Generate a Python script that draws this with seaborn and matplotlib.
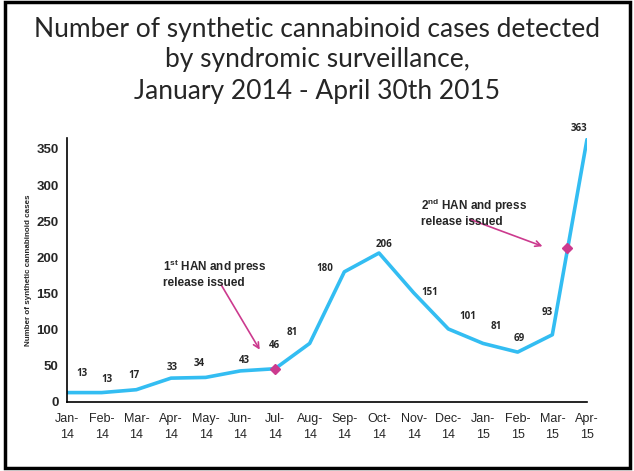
import matplotlib
matplotlib.use("Agg")
import matplotlib.pyplot as plt
import seaborn as sns
import pandas as pd
from matplotlib.patches import Rectangle

# dados
meses = ["Jan-\n14", "Feb-\n14", "Mar-\n14", "Apr-\n14", "May-\n14", "Jun-\n14",
         "Jul-\n14", "Aug-\n14", "Sep-\n14", "Oct-\n14", "Nov-\n14", "Dec-\n14",
         "Jan-\n15", "Feb-\n15", "Mar-\n15", "Apr-\n15"]
casos = [13, 13, 17, 33, 34, 43, 46, 81, 180, 206, 151, 101, 81, 69, 93, 363]

# eventos (HAN) marcados na linha
han_x = [6, 14.43]
han_y = [46, 213]

# deslocamento dos rotulos (pixels)
desloc = [(15, 19), (5, 13), (-2, 14), (1, 11), (-6, 14), (4, 10), (-1, 23), (-17, 11),
          (-20, 3), (5, 9), (16, 0), (19, 12), (13, 17), (2, 14), (-5, 22), (-8, 11)]

df = pd.DataFrame({"idx": range(len(casos)), "casos": casos})

sns.set_style("white")
plt.rcParams["font.family"] = ["Liberation Sans", "DejaVu Sans"]
plt.rcParams["mathtext.fontset"] = "custom"
plt.rcParams["mathtext.bf"] = "Liberation Sans:bold"
plt.rcParams["mathtext.rm"] = "Liberation Sans"

fig = plt.figure(figsize=(6.34, 4.71), dpi=100)
ax = fig.add_axes([67 / 634, 1 - 402 / 471, 520 / 634, 264 / 471])

azul = "#33BDF2"
rosa = "#CC3A8E"

sns.lineplot(data=df, x="idx", y="casos", ax=ax, color=azul, linewidth=2.6)
ax.plot(han_x, han_y, linestyle="none", marker="D", markersize=5.5, color=rosa, zorder=5)

for i, v in enumerate(casos):
    dx, dy = desloc[i]
    ax.annotate(str(v), (i, v), xytext=(dx, dy), textcoords="offset pixels",
                ha="center", va="center", fontsize=7, fontweight="bold",
                family=["Open Sans", "DejaVu Sans"])

# setas e textos
ax.annotate("", xy=(5.6, 69), xytext=(4.41, 165),
            arrowprops=dict(arrowstyle="->", color=rosa, lw=1.2))
ax.annotate("", xy=(13.79, 214), xytext=(11.54, 254),
            arrowprops=dict(arrowstyle="->", color=rosa, lw=1.2))
ax.text(2.77, 200, r"1$^{\mathbf{st}}$ HAN and press" + "\nrelease issued",
        fontsize=8.5, fontweight="bold", ha="left", va="top", linespacing=1.15)
ax.text(10.21, 284, r"2$^{\mathbf{nd}}$ HAN and press" + "\nrelease issued",
        fontsize=8.5, fontweight="bold", ha="left", va="top", linespacing=1.15)

ax.set_xlim(0, 15)
ax.set_ylim(0, 365)
ax.set_xticks(range(len(meses)))
ax.set_xticklabels(meses, fontsize=9, linespacing=1.45)
ax.set_yticks(range(0, 351, 50))
ax.set_yticklabels([str(t) for t in range(0, 351, 50)], fontsize=9.5, fontweight="bold")
ax.tick_params(axis="both", direction="out", length=4, width=0.6, color="#999999", pad=2)
ax.tick_params(axis="x", pad=4)
ax.set_xlabel("")
ax.set_ylabel("Number of synthetic cannabinoid cases", fontsize=5.8, fontweight="bold", labelpad=3)

sns.despine(ax=ax)
for s in ["left", "bottom"]:
    ax.spines[s].set_color("black")
    ax.spines[s].set_linewidth(1.2)

# titulo
fig.text(0.5, 1 - 60 / 471,
         "Number of synthetic cannabinoid cases detected\nby syndromic surveillance,\nJanuary 2014 - April 30th 2015",
         ha="center", va="center", fontsize=19, family=["Lato", "DejaVu Sans"], linespacing=1.3)

# moldura
fig.patches.append(Rectangle((5 / 634, 3 / 471), 625 / 634, 466 / 471, transform=fig.transFigure,
                             fill=False, edgecolor="black", linewidth=2.5))

fig.savefig("out.png", dpi=100)
